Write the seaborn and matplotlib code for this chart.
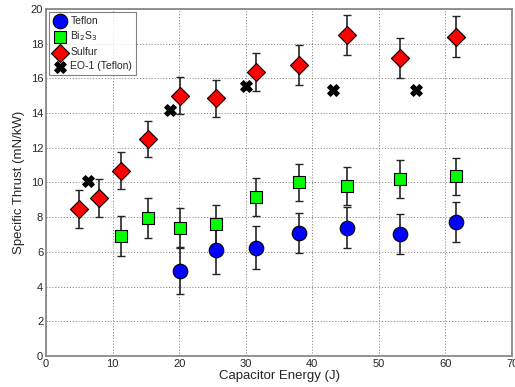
import numpy as np
import pandas as pd
import matplotlib
matplotlib.use("Agg")
import matplotlib.pyplot as plt
import seaborn as sns

# Data
teflon_x = [20.1, 25.5, 31.6, 38.0, 45.2, 53.1, 61.6]
teflon_y = [4.9, 6.1, 6.25, 7.1, 7.4, 7.05, 7.7]
teflon_err = [1.35, 1.35, 1.25, 1.15, 1.2, 1.15, 1.15]

bi2s3_x = [11.2, 15.3, 20.1, 25.5, 31.5, 38.0, 45.2, 53.1, 61.6]
bi2s3_y = [6.9, 7.95, 7.4, 7.6, 9.15, 10.0, 9.8, 10.2, 10.35]
bi2s3_err = [1.15, 1.15, 1.12, 1.12, 1.1, 1.08, 1.08, 1.08, 1.08]

sulfur_x = [5.0, 7.9, 11.2, 15.3, 20.1, 25.5, 31.5, 38.0, 45.2, 53.1, 61.6]
sulfur_y = [8.45, 9.12, 10.68, 12.5, 15.0, 14.85, 16.35, 16.77, 18.5, 17.15, 18.4]
sulfur_err = [1.1, 1.1, 1.08, 1.06, 1.08, 1.08, 1.1, 1.15, 1.15, 1.15, 1.17]

eo1_x = [6.3, 18.6, 30.0, 43.1, 55.6]
eo1_y = [10.1, 14.2, 15.55, 15.32, 15.32]

labels = ["Teflon", "Bi$_2$S$_3$", "Sulfur", "EO-1 (Teflon)"]

rows = []
for x, y, e in zip(teflon_x, teflon_y, teflon_err):
    rows.append((x, y, e, labels[0]))
for x, y, e in zip(bi2s3_x, bi2s3_y, bi2s3_err):
    rows.append((x, y, e, labels[1]))
for x, y, e in zip(sulfur_x, sulfur_y, sulfur_err):
    rows.append((x, y, e, labels[2]))
for x, y in zip(eo1_x, eo1_y):
    rows.append((x, y, np.nan, labels[3]))
df = pd.DataFrame(rows, columns=["energy", "thrust", "err", "series"])

sns.set_style("white")
plt.rcParams['font.family'] = ['Liberation Sans', 'DejaVu Sans']

fig = plt.figure(figsize=(5.15, 3.87), dpi=100)
ax = fig.add_axes([0.0893, 0.0801, 0.905, 0.897])

# error bars
for lab in labels[:3]:
    d = df[df.series == lab]
    ax.errorbar(d.energy, d.thrust, yerr=d.err, fmt='none', ecolor='#252525',
                elinewidth=1.2, capsize=3, capthick=1.0, zorder=2)

palette = {labels[0]: '#0000ff', labels[1]: '#00ff00', labels[2]: '#ff0000', labels[3]: '#000000'}
markers = {labels[0]: 'o', labels[1]: 's', labels[2]: 'D', labels[3]: 'X'}
sizes = {labels[0]: 110, labels[1]: 85, labels[2]: 85, labels[3]: 70}

for lab in labels:
    d = df[df.series == lab]
    sns.scatterplot(data=d, x="energy", y="thrust", ax=ax, color=palette[lab],
                    marker=markers[lab], s=sizes[lab], edgecolor='black',
                    linewidth=0.8, label=lab, zorder=3)

ax.set_xlim(0, 70)
ax.set_ylim(0, 20)
ax.set_xticks(range(0, 71, 10))
ax.set_yticks(range(0, 21, 2))
ax.grid(True, linestyle=(0, (1.2, 1.8)), color='#8a8a8a', linewidth=0.7)
for s in ax.spines.values():
    s.set_color('#808080')
    s.set_linewidth(1.2)
ax.tick_params(axis='both', labelsize=8, length=3, direction='in', color='#808080', pad=2)
ax.set_xlabel("Capacitor Energy (J)", fontsize=9.5, labelpad=1)
ax.set_ylabel("Specific Thrust (mN/kW)", fontsize=9.5, labelpad=4)

leg = ax.legend(loc='upper left', fontsize=7.5, frameon=True, fancybox=False,
                edgecolor='#606060', borderpad=0.35, labelspacing=0.38,
                handletextpad=0.3, handlelength=1.4, borderaxespad=0.3,
                markerscale=1.0)
leg.get_frame().set_linewidth(0.8)

fig.savefig("out.png", dpi=100)
